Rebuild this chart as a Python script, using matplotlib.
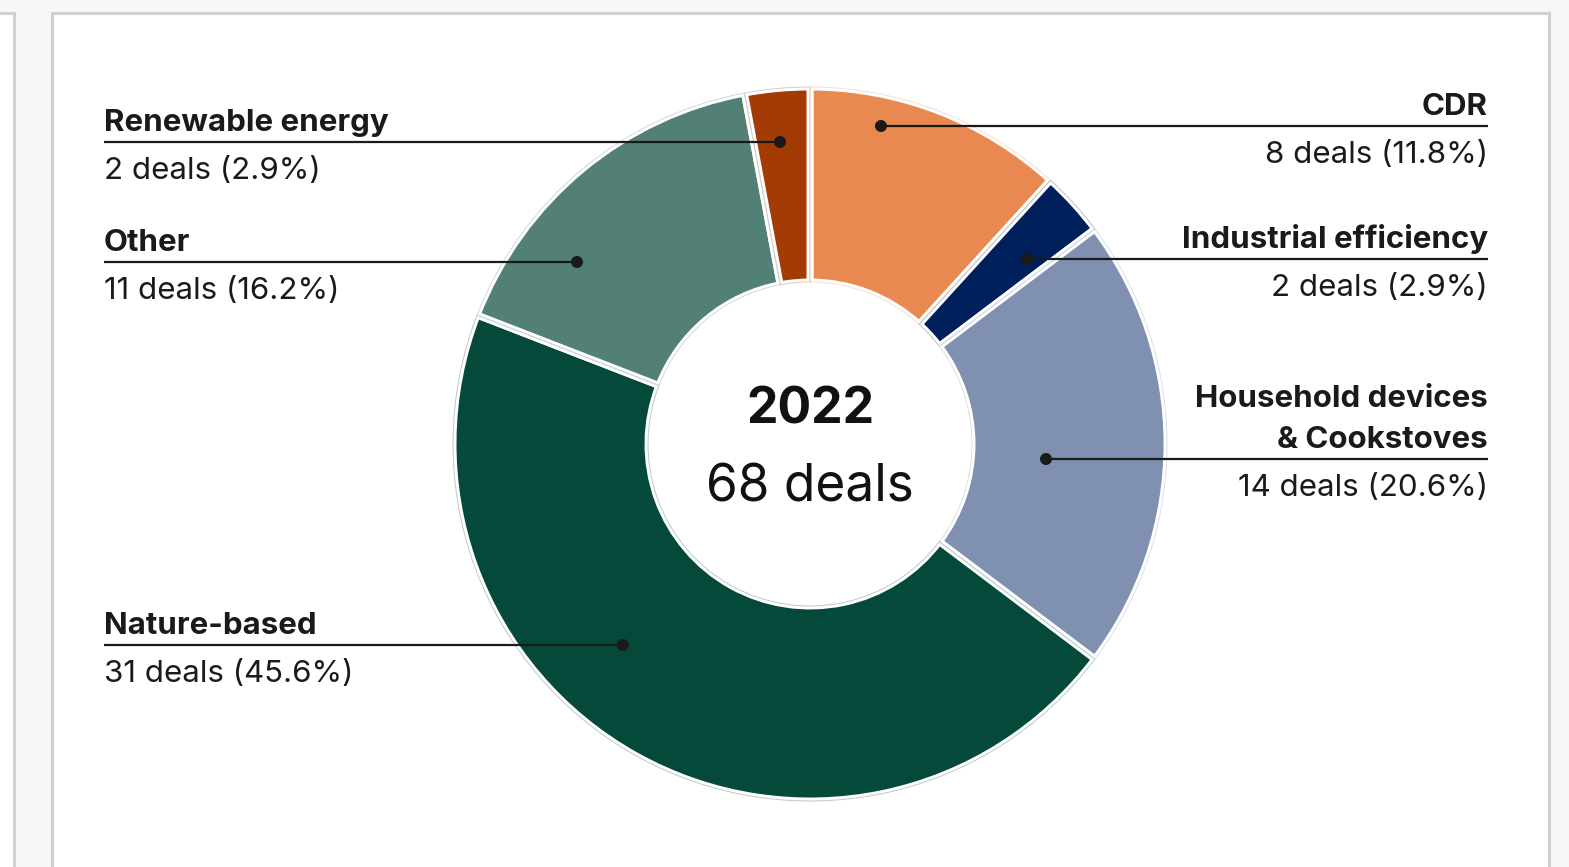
import matplotlib
matplotlib.use("Agg")
import matplotlib.pyplot as plt
from matplotlib.patches import Rectangle, Circle, Wedge
import matplotlib.colors as mcolors
import numpy as np

plt.rcParams['font.family'] = ['Inter', 'DejaVu Sans']

# ---- data ----
categories = ["CDR", "Industrial efficiency", "Household devices\n& Cookstoves",
              "Nature-based", "Other", "Renewable energy"]
deals = [8, 2, 14, 31, 11, 2]
colors = ["#E98952", "#00205B", "#8090B0", "#05493B", "#527F76", "#A23C04"]
year_label = "2022"
total = sum(deals)

W, H = 1569, 867
fig = plt.figure(figsize=(W / 100, H / 100), dpi=100)
fig.patch.set_facecolor("#f7f7f7")
ax = fig.add_axes([0, 0, 1, 1])

def Y(py):
    return H - py

# panels
ax.add_patch(Rectangle((-20, Y(900)), 20 + 13.5, 900 - 13.0, facecolor="white",
                       edgecolor="#d0d0d0", lw=2.2, zorder=0))
ax.add_patch(Rectangle((51.5, Y(900)), 1549 - 51.5, 900 - 13.0, facecolor="white",
                       edgecolor="#d0d0d0", lw=2.2, zorder=0))

# donut
cx, cy = 810, Y(444)
R_out, R_in = 357, 162
wedges, _ = ax.pie(deals, colors=colors, startangle=90, counterclock=False,
                   center=(cx, cy), radius=R_out, frame=True,
                   wedgeprops=dict(width=R_out - R_in, edgecolor="white", linewidth=5))
for w, c in zip(wedges, colors):
    w.set_zorder(2)
    pale = mcolors.to_rgb(c)
    pale = tuple(0.72 + 0.28 * v for v in pale)
    ow = Wedge(w.center, w.r, w.theta1, w.theta2, width=w.width,
               facecolor="none", edgecolor=pale, lw=0.7, zorder=3)
    ax.add_patch(ow)
ax.set_xlim(0, W)
ax.set_ylim(0, H)
ax.set_aspect("auto")
ax.axis("off")

# center text
ax.text(cx, Y(423), year_label, ha="center", va="baseline", fontsize=36,
        fontweight="bold", color="#111111", zorder=5)
ax.text(cx, Y(501), f"{total} deals", ha="center", va="baseline", fontsize=37,
        color="#111111", zorder=5)

# labels: (side, line_y, dot_x)
label_specs = [
    ("right", 126, 881),
    ("right", 259, 1027),
    ("right", 459, 1046),
    ("left", 645, 623),
    ("left", 262, 577),
    ("left", 142, 780),
]
txt_col = "#1a1a1a"
for cat, n, (side, ly, dx) in zip(categories, deals, label_specs):
    pct = n / total * 100
    if side == "left":
        x0, x1, tx, ha = 104, dx, 104, "left"
    else:
        x0, x1, tx, ha = dx, 1488, 1488, "right"
    ax.plot([x0, x1], [Y(ly), Y(ly)], color=txt_col, lw=1.6, zorder=6,
            solid_capstyle="butt")
    ax.add_patch(Circle((dx, Y(ly)), 6, facecolor=txt_col, edgecolor="none", zorder=7))
    ax.text(tx, Y(ly - 11), cat, ha=ha, va="baseline", fontsize=22.5,
            fontweight="bold", color=txt_col, linespacing=1.6, zorder=6)
    ax.text(tx, Y(ly + 37), f"{n} deals ({pct:.1f}%)", ha=ha, va="baseline",
            fontsize=22.5, color=txt_col, zorder=6)

fig.savefig("out.png", dpi=100, facecolor=fig.get_facecolor())
